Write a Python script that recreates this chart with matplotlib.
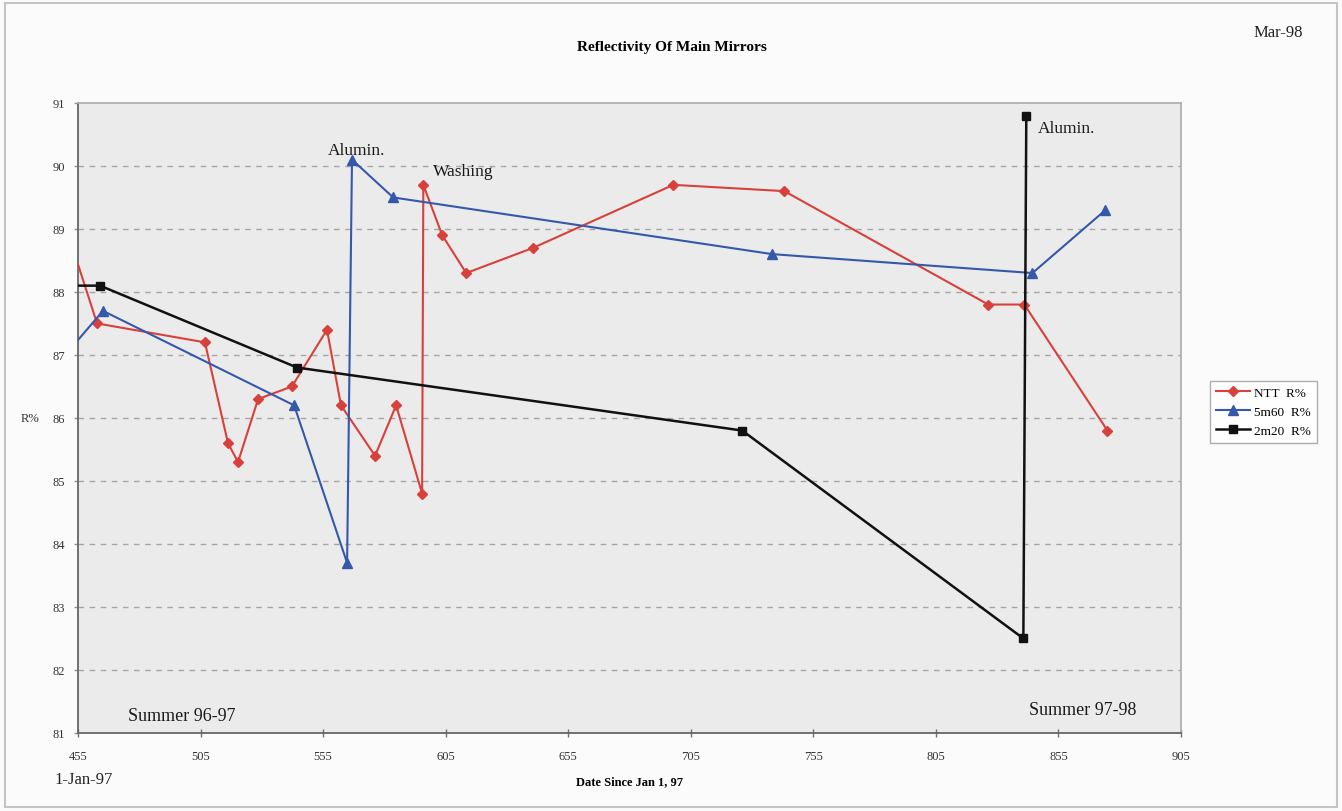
import matplotlib
matplotlib.use("Agg")
import matplotlib.pyplot as plt
from matplotlib.patches import Rectangle

plt.rcParams['font.family'] = ['Liberation Serif', 'DejaVu Serif']

# Days since reference date (455 = 1-Jan-97) and reflectivity in percent
ntt_days = [452, 462.8, 506.8, 516.2, 520.3, 528.5, 542.3, 556.6, 562.3, 576.2,
            584.8, 595.4, 595.9, 603.6, 613.4, 640.7, 697.9, 743.2, 826.4, 841.1, 875.0]
ntt_r = [88.8, 87.5, 87.2, 85.6, 85.3, 86.3, 86.5, 87.4, 86.2, 85.4,
         86.2, 84.8, 89.7, 88.9, 88.3, 88.7, 89.7, 89.6, 87.8, 87.8, 85.8]

m60_days = [452, 465.2, 543.2, 564.8, 566.8, 583.6, 738.3, 844.4, 874.2]
m60_r = [87.1, 87.7, 86.2, 83.7, 90.1, 89.5, 88.6, 88.3, 89.3]

m20_days = [452, 464.0, 544.4, 726.0, 840.7, 841.9]
m20_r = [88.1, 88.1, 86.8, 85.8, 82.5, 90.8]

series_labels = ["NTT  R%", "5m60  R%", "2m20  R%"]

x_ticks = [455, 505, 555, 605, 655, 705, 755, 805, 855, 905]
y_ticks = [81, 82, 83, 84, 85, 86, 87, 88, 89, 90, 91]

fig = plt.figure(figsize=(13.42, 8.12), dpi=100, facecolor='#fbfbfb')
fig.patches.append(Rectangle((5 / 1342, 4 / 812), 1332 / 1342, 804 / 812,
                             transform=fig.transFigure, fill=False,
                             edgecolor='#c4c4c4', linewidth=1.5))

ax = fig.add_axes([0.0581, 0.0961, 0.8219, 0.7759])
ax.set_facecolor('#ebebeb')

# horizontal dashed gridlines
for y in y_ticks[1:-1]:
    ax.axhline(y, color='#a5a5a5', linewidth=1.0, dashes=(4, 4), zorder=1)

ax.plot(ntt_days, ntt_r, color='#d8413b', linewidth=1.5, marker='D',
        markersize=5, label=series_labels[0], zorder=3)
ax.plot(m60_days, m60_r, color='#3658aa', linewidth=1.5, marker='^',
        markersize=6.5, label=series_labels[1], zorder=3)
ax.plot(m20_days, m20_r, color='#111111', linewidth=1.8, marker='s',
        markersize=6, label=series_labels[2], zorder=4)

ax.set_xlim(455, 905)
ax.set_ylim(81, 91)
ax.set_xticks(x_ticks)
ax.set_yticks(y_ticks)
ax.tick_params(axis='x', direction='inout', length=6, width=1, color='#707070',
               labelsize=9, pad=9, labelcolor='#333333')
ax.tick_params(axis='y', direction='out', length=3, width=1, color='#909090',
               labelsize=9, pad=6, labelcolor='#333333')

for side in ['left', 'bottom']:
    ax.spines[side].set_color('#666666')
    ax.spines[side].set_linewidth(1.3)
for side in ['top', 'right']:
    ax.spines[side].set_color('#b0b0b0')
    ax.spines[side].set_linewidth(1.3)

# event annotations
ax.text(557, 90.25, "Alumin.", fontsize=12.5, color='#1a1a1a', va='center')
ax.text(600, 89.92, "Washing", fontsize=12.5, color='#1a1a1a', va='center')
ax.text(846.8, 90.6, "Alumin.", fontsize=12.5, color='#1a1a1a', va='center')
ax.text(475.4, 81.27, "Summer 96-97", fontsize=13, color='#1a1a1a', va='center')
ax.text(842.8, 81.38, "Summer 97-98", fontsize=13, color='#1a1a1a', va='center')

ax.set_xlabel("Date Since Jan 1, 97", fontsize=9, fontweight='bold', labelpad=10)
fig.text(30 / 1342, 1 - 419 / 812, "R%", fontsize=9, ha='center', va='center',
         color='#333333')

fig.text(672 / 1342, 1 - 47 / 812, "Reflectivity Of Main Mirrors", fontsize=11,
         fontweight='bold', ha='center', va='center')
fig.text(1278 / 1342, 1 - 33 / 812, "Mar-98", fontsize=12, ha='center',
         va='center', color='#222222')
fig.text(84 / 1342, 1 - 780 / 812, "1-Jan-97", fontsize=12, ha='center',
         va='center', color='#222222')

leg = ax.legend(loc='center left', bbox_to_anchor=(1.02, 0.51), fontsize=9.5,
                frameon=True, fancybox=False, handlelength=2.6,
                handletextpad=0.3, borderpad=0.45, labelspacing=0.5)
leg.get_frame().set_edgecolor('#999999')
leg.get_frame().set_facecolor('white')

fig.savefig("out.png", dpi=100, facecolor=fig.get_facecolor())
